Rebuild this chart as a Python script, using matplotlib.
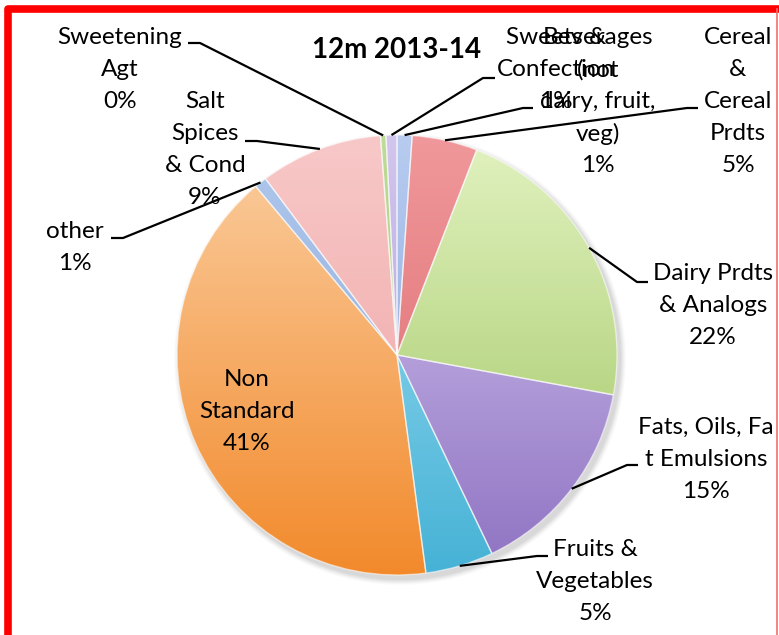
import numpy as np
import matplotlib.pyplot as plt
from matplotlib.colors import LinearSegmentedColormap

# 12m 2013-14 share by food category
categories = [
    "Beverages\n(not\ndairy, fruit,\nveg)",
    "Cereal\n&\nCereal\nPrdts",
    "Dairy Prdts\n& Analogs",
    "Fats, Oils, Fa\nt Emulsions",
    "Fruits &\nVegetables",
    "Non\nStandard",
    "other",
    "Salt\nSpices\n& Cond",
    "Sweetening\nAgt",
    "Sweets &\nConfection",
]
shares = [1.1, 4.8, 22.0, 15.0, 5.0, 41.0, 0.9, 9.0, 0.4, 0.8]

# light (top) / dark (bottom) colour of each slice
light = ["#b8ccf0", "#f0989b", "#e2f2c0", "#dacbf2", "#a6e2f4",
         "#fbcfa2", "#b0c8ec", "#f8c8c8", "#c0dc98", "#d2c6ee"]
dark = ["#7c9ed8", "#da6468", "#9cc45e", "#8e72c2", "#46b2d6",
        "#f28a2c", "#86a6da", "#eea0a0", "#96be6c", "#a696d4"]

W, H = 779, 635
cx, cy, r = 397, 355, 220


def py(y):
    return H - y


# label block centre (x, y of first line) and leader elbow, in pixels
text_xy = [(598, 38), (738, 38), (713, 274), (706, 427), (595, 549),
           (247, 380), (75, 232), (205, 101), (120, 38), (556, 38)]
elbows = [[(533, 108), (523, 108)], [(698, 108), (687, 108)],
          [(648, 282), (637, 282)], [(638, 465), (627, 465)],
          [(548, 556), (537, 556)], None,
          [(111, 238), (123, 238)], [(245, 141), (257, 141)],
          [(188, 43), (200, 43)], [(495, 78), (483, 78)]]

font = ["Lato", "DejaVu Sans"]
fs = 17.5
step = 32

fig = plt.figure(figsize=(W / 100, H / 100), dpi=100)
ax = fig.add_axes([0, 0, 1, 1])

# soft shadow
for k, a in zip(range(6, 0, -1), [0.03, 0.04, 0.05, 0.06, 0.07, 0.08]):
    ax.add_patch(plt.Circle((cx + 3, py(cy) - 4), r + k, color="#808080",
                            alpha=a, lw=0, zorder=0))

wedges, _ = ax.pie(shares, startangle=90, counterclock=False,
                   center=(cx, py(cy)), radius=r,
                   wedgeprops=dict(edgecolor="white", linewidth=1.0))

grad = np.linspace(0, 1, 256).reshape(-1, 1)
for w, c1, c2 in zip(wedges, light, dark):
    cmap = LinearSegmentedColormap.from_list("g", [c1, c2])
    im = ax.imshow(grad, cmap=cmap, extent=(cx - r, cx + r, py(cy) - r, py(cy) + r),
                   origin="upper", aspect="auto", zorder=1)
    im.set_clip_path(w)
    w.set_facecolor("none")
    w.set_edgecolor((1, 1, 1, 0.55))
    w.set_zorder(2)

for w, name, v, (tx, ty), elb in zip(wedges, categories, shares, text_xy, elbows):
    lines = name.split("\n") + [f"{v:.0f}%"]
    for i, s in enumerate(lines):
        ax.text(tx, py(ty + i * step), s, ha="center", va="center",
                fontsize=fs, family=font, color="black", zorder=5)
    if elb is None:
        continue
    mid = np.deg2rad((w.theta1 + w.theta2) / 2)
    ex = cx + r * np.cos(mid)
    ey = py(cy) + r * np.sin(mid)
    xs = [elb[0][0], elb[1][0], ex]
    ys = [py(elb[0][1]), py(elb[1][1]), ey]
    ax.plot(xs, ys, color="black", lw=1.6, zorder=4, solid_capstyle="butt")

ax.text(397, py(50), "12m 2013-14", ha="center", va="center",
        fontsize=20, fontweight="bold", family=font, zorder=5)

# red frame
ax.plot([8.5, 8.5, 777], [0, py(9), py(9)], color="red", lw=5.5,
        solid_joinstyle="round", zorder=6)
ax.plot([777, 777], [py(9), 0], color="#f07070", lw=1.2, zorder=6)

ax.set_xlim(0, W)
ax.set_ylim(0, H)
ax.set_aspect("equal")
ax.axis("off")

fig.savefig("out.png", dpi=100)
